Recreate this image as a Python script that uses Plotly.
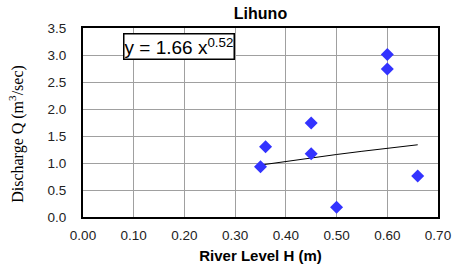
import plotly.graph_objects as go

# Data
river_level = [0.35, 0.36, 0.45, 0.45, 0.50, 0.60, 0.60, 0.66]
discharge = [0.93, 1.30, 1.17, 1.74, 0.18, 3.01, 2.74, 0.76]

# Power trendline y = a * x^b
trend_a = 1.66
trend_b = 0.52
trend_x = [0.355, 0.40, 0.45, 0.50, 0.55, 0.60, 0.66]
trend_y = [trend_a * x ** trend_b for x in trend_x]

x_ticks = [0.0, 0.1, 0.2, 0.3, 0.4, 0.5, 0.6, 0.7]
y_ticks = [0.0, 0.5, 1.0, 1.5, 2.0, 2.5, 3.0, 3.5]

fig = go.Figure()
fig.add_trace(go.Scatter(
    x=trend_x, y=trend_y, mode="lines",
    line=dict(color="black", width=1),
    showlegend=False,
))
fig.add_trace(go.Scatter(
    x=river_level, y=discharge, mode="markers",
    marker=dict(symbol="diamond", size=10, color="#3333ff"),
    showlegend=False,
))

fig.add_annotation(
    x=0.0, xref="paper", xanchor="left", xshift=40,
    y=1.0, yref="paper", yanchor="top", yshift=-5,
    text="y = 1.66 x<sup>0.52</sup>",
    showarrow=False,
    font=dict(family="Arial, Liberation Sans", size=19, color="black"),
    bgcolor="white", bordercolor="black", borderwidth=1.5, borderpad=0,
)

# Y-axis title as rotated annotation
fig.add_annotation(
    x=0.0, xref="paper", xanchor="center", xshift=-66,
    y=0.44, yref="paper", yanchor="middle",
    text="Discharge Q (m<sup>3</sup>/sec)", textangle=-90,
    showarrow=False,
    font=dict(family="Liberation Serif, Times New Roman", size=16, color="black"),
)

fig.update_layout(
    width=454, height=275,
    margin=dict(l=83, r=16, t=28, b=58, autoexpand=False),
    paper_bgcolor="white", plot_bgcolor="white",
    title=dict(text="<b>Lihuno</b>", x=0.5, xanchor="center", y=0.972, yanchor="top",
               font=dict(family="Arial, Liberation Sans", size=16, color="black"),
               xref="paper"),
    font=dict(family="Arial, Liberation Sans", size=13.5, color="#222222"),
)
fig.update_xaxes(
    range=[0, 0.7], tickvals=x_ticks, tickformat=".2f", automargin=False,
    showgrid=True, gridcolor="#a0a0a0", gridwidth=1,
    showline=True, linecolor="black", linewidth=2, mirror=True,
    zeroline=False, ticks="outside", ticklen=5, tickcolor="rgba(0,0,0,0)",
    title=dict(text="<b>River Level H (m)</b>", standoff=8,
               font=dict(family="Arial, Liberation Sans", size=15, color="black")),
)
fig.update_yaxes(
    range=[0, 3.5], tickvals=y_ticks, tickformat=".1f", automargin=False,
    showgrid=True, gridcolor="#a0a0a0", gridwidth=1,
    showline=True, linecolor="black", linewidth=2, mirror=True,
    zeroline=False, ticks="outside", ticklen=12, tickcolor="rgba(0,0,0,0)",
)

fig.write_html("out.html", config={"displayModeBar": False},
               post_script="document.body.style.margin='0';")
